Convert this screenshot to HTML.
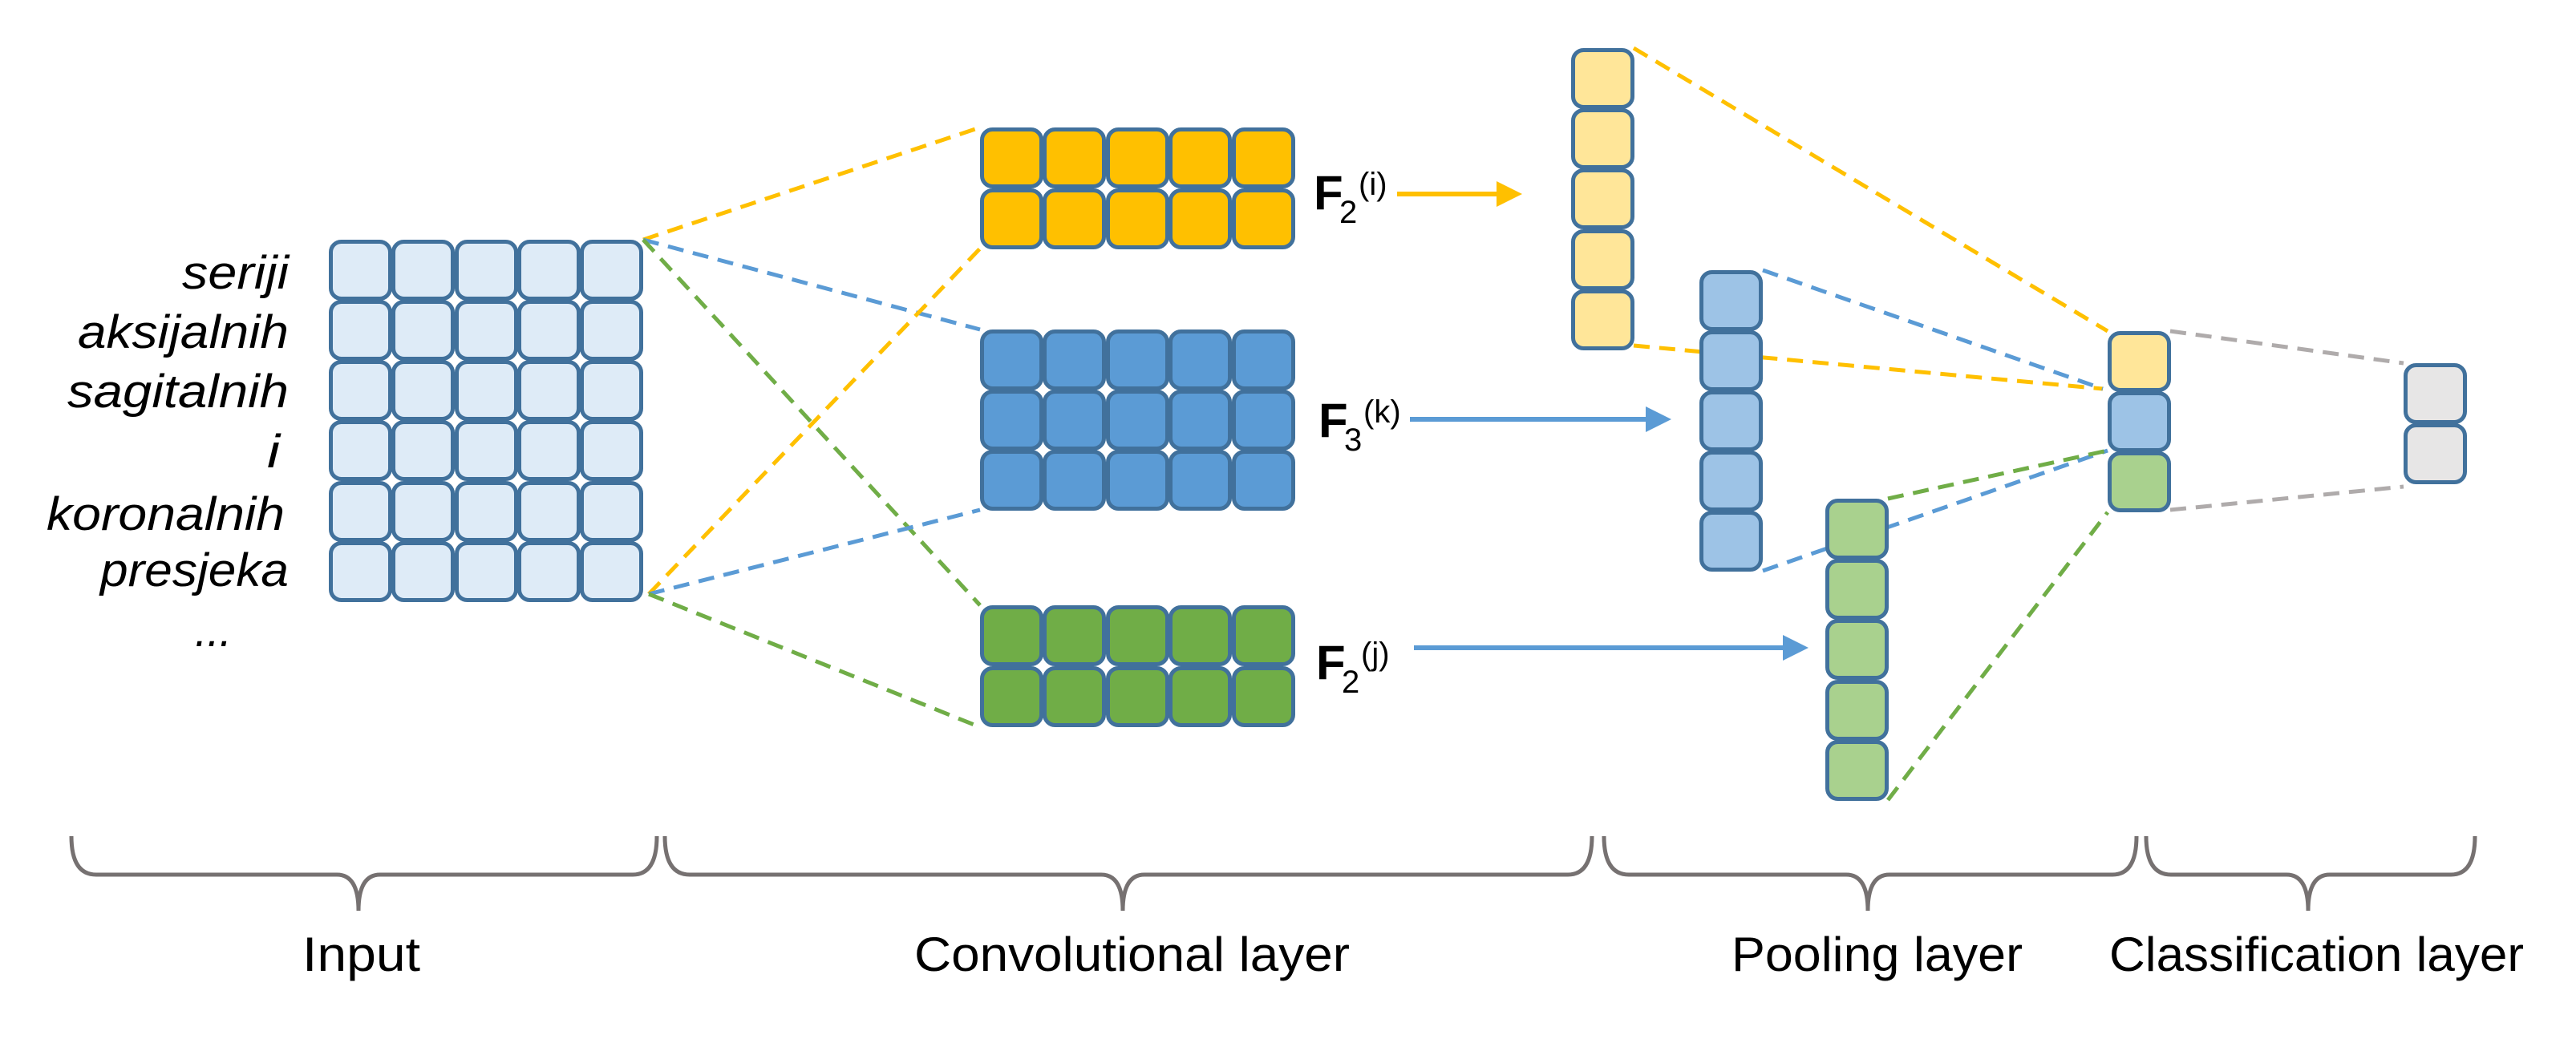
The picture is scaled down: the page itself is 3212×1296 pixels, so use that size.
<!DOCTYPE html>
<html><head><meta charset="utf-8"><style>html,body{margin:0;padding:0;background:#fff}svg{display:block}</style></head>
<body>
<svg width="3212" height="1296" viewBox="0 0 3212 1296" xmlns="http://www.w3.org/2000/svg">
<defs>
<rect id="c" x="2.5" y="2.5" width="74" height="71" rx="13" stroke="#41719C" stroke-width="5"/>
</defs>
<!-- dashed connectors left -->
<g stroke-width="5" stroke-dasharray="20,12" fill="none">
<line x1="802" y1="299" x2="1222" y2="159" stroke="#FFC000"/>
<line x1="802" y1="299" x2="1222" y2="411" stroke="#5B9BD5"/>
<line x1="802" y1="299" x2="1222" y2="755" stroke="#70AD47"/>
<line x1="809" y1="741" x2="1222" y2="310" stroke="#FFC000"/>
<line x1="809" y1="741" x2="1222" y2="636" stroke="#5B9BD5"/>
<line x1="809" y1="741" x2="1222" y2="907" stroke="#70AD47"/>
<line x1="2037" y1="60" x2="2628" y2="413" stroke="#FFC000"/>
<line x1="2037" y1="431" x2="2622" y2="485" stroke="#FFC000"/>
<line x1="2198" y1="337" x2="2622" y2="485" stroke="#5B9BD5"/>
<line x1="2198" y1="712" x2="2628" y2="562" stroke="#5B9BD5"/>
<line x1="2354" y1="622" x2="2628" y2="562" stroke="#70AD47"/>
<line x1="2354" y1="998" x2="2628" y2="639" stroke="#70AD47"/>
<line x1="2706" y1="413" x2="2997" y2="453" stroke="#AFABAB"/>
<line x1="2706" y1="636" x2="2997" y2="607" stroke="#AFABAB"/>
</g>
<!-- input grid -->
<g fill="#DEEBF7">
<use href="#c" x="410" y="299"/><use href="#c" x="488" y="299"/><use href="#c" x="567" y="299"/><use href="#c" x="645" y="299"/><use href="#c" x="723" y="299"/>
<use href="#c" x="410" y="374"/><use href="#c" x="488" y="374"/><use href="#c" x="567" y="374"/><use href="#c" x="645" y="374"/><use href="#c" x="723" y="374"/>
<use href="#c" x="410" y="449"/><use href="#c" x="488" y="449"/><use href="#c" x="567" y="449"/><use href="#c" x="645" y="449"/><use href="#c" x="723" y="449"/>
<use href="#c" x="410" y="524"/><use href="#c" x="488" y="524"/><use href="#c" x="567" y="524"/><use href="#c" x="645" y="524"/><use href="#c" x="723" y="524"/>
<use href="#c" x="410" y="600"/><use href="#c" x="488" y="600"/><use href="#c" x="567" y="600"/><use href="#c" x="645" y="600"/><use href="#c" x="723" y="600"/>
<use href="#c" x="410" y="675"/><use href="#c" x="488" y="675"/><use href="#c" x="567" y="675"/><use href="#c" x="645" y="675"/><use href="#c" x="723" y="675"/>
</g>
<g fill="#FFC000">
<use href="#c" x="1222" y="159"/><use href="#c" x="1300" y="159"/><use href="#c" x="1379" y="159"/><use href="#c" x="1457" y="159"/><use href="#c" x="1536" y="159"/>
<use href="#c" x="1222" y="235"/><use href="#c" x="1300" y="235"/><use href="#c" x="1379" y="235"/><use href="#c" x="1457" y="235"/><use href="#c" x="1536" y="235"/>
</g>
<g fill="#5B9BD5">
<use href="#c" x="1222" y="411"/><use href="#c" x="1300" y="411"/><use href="#c" x="1379" y="411"/><use href="#c" x="1457" y="411"/><use href="#c" x="1536" y="411"/>
<use href="#c" x="1222" y="486"/><use href="#c" x="1300" y="486"/><use href="#c" x="1379" y="486"/><use href="#c" x="1457" y="486"/><use href="#c" x="1536" y="486"/>
<use href="#c" x="1222" y="561"/><use href="#c" x="1300" y="561"/><use href="#c" x="1379" y="561"/><use href="#c" x="1457" y="561"/><use href="#c" x="1536" y="561"/>
</g>
<g fill="#70AD47">
<use href="#c" x="1222" y="755"/><use href="#c" x="1300" y="755"/><use href="#c" x="1379" y="755"/><use href="#c" x="1457" y="755"/><use href="#c" x="1536" y="755"/>
<use href="#c" x="1222" y="831"/><use href="#c" x="1300" y="831"/><use href="#c" x="1379" y="831"/><use href="#c" x="1457" y="831"/><use href="#c" x="1536" y="831"/>
</g>
<g fill="#FFE699">
<use href="#c" x="1959" y="60"/><use href="#c" x="1959" y="135"/><use href="#c" x="1959" y="210"/><use href="#c" x="1959" y="286"/><use href="#c" x="1959" y="361"/>
<use href="#c" x="2628" y="413"/>
</g>
<g fill="#9DC3E6">
<use href="#c" x="2119" y="337"/><use href="#c" x="2119" y="412"/><use href="#c" x="2119" y="487"/><use href="#c" x="2119" y="562"/><use href="#c" x="2119" y="637"/>
<use href="#c" x="2628" y="488"/>
</g>
<g fill="#A9D18E">
<use href="#c" x="2276" y="622"/><use href="#c" x="2276" y="697"/><use href="#c" x="2276" y="772"/><use href="#c" x="2276" y="848"/><use href="#c" x="2276" y="923"/>
<use href="#c" x="2628" y="563"/>
</g>
<g fill="#E7E6E6">
<use href="#c" x="2997" y="453"/><use href="#c" x="2997" y="528"/>
</g>
<!-- arrows -->
<g stroke-width="6">
<line x1="1742" y1="242" x2="1870" y2="242" stroke="#FFC000"/>
<line x1="1758" y1="523" x2="2056" y2="523" stroke="#5B9BD5"/>
<line x1="1763" y1="808" x2="2227" y2="808" stroke="#5B9BD5"/>
</g>
<polygon points="1866,226 1898,242 1866,258" fill="#FFC000"/>
<polygon points="2052,507 2084,523 2052,539" fill="#5B9BD5"/>
<polygon points="2223,792 2255,808 2223,824" fill="#5B9BD5"/>
<!-- F labels -->
<g font-family="Liberation Sans, sans-serif" fill="#000">
<text x="1638" y="261" font-size="60" font-weight="bold">F</text>
<text x="1670" y="278" font-size="40">2</text>
<text x="1694" y="243" font-size="40">(i)</text>
<text x="1644" y="545" font-size="60" font-weight="bold">F</text>
<text x="1676" y="562" font-size="40">3</text>
<text x="1700" y="527" font-size="40">(k)</text>
<text x="1641" y="847" font-size="60" font-weight="bold">F</text>
<text x="1673" y="864" font-size="40">2</text>
<text x="1697" y="829" font-size="40">(j)</text>
</g>
<!-- input text -->
<g font-family="Liberation Sans, sans-serif" font-style="italic" font-size="58" fill="#000" lengthAdjust="spacingAndGlyphs">
<text x="227" y="360" textLength="133" lengthAdjust="spacingAndGlyphs">seriji</text>
<text x="97" y="434" textLength="263" lengthAdjust="spacingAndGlyphs">aksijalnih</text>
<text x="84" y="508" textLength="276" lengthAdjust="spacingAndGlyphs">sagitalnih</text>
<text x="333" y="583" textLength="16" lengthAdjust="spacingAndGlyphs">i</text>
<text x="58" y="661" textLength="297" lengthAdjust="spacingAndGlyphs">koronalnih</text>
<text x="125" y="731" textLength="235" lengthAdjust="spacingAndGlyphs">presjeka</text>
<text x="243" y="806" textLength="46" lengthAdjust="spacingAndGlyphs">...</text>
</g>
<!-- braces -->
<g stroke="#767171" stroke-width="5" fill="none">
<path d="M89,1043 Q89,1091 120,1091 L420,1091 Q447,1091 447,1136 Q447,1091 474,1091 L789,1091 Q819,1091 819,1043"/>
<path d="M829,1043 Q829,1091 860,1091 L1373,1091 Q1400,1091 1400,1136 Q1400,1091 1427,1091 L1955,1091 Q1985,1091 1985,1043"/>
<path d="M2000,1043 Q2000,1091 2031,1091 L2302,1091 Q2329,1091 2329,1136 Q2329,1091 2356,1091 L2634,1091 Q2664,1091 2664,1043"/>
<path d="M2676,1043 Q2676,1091 2707,1091 L2851,1091 Q2878,1091 2878,1136 Q2878,1091 2905,1091 L3056,1091 Q3086,1091 3086,1043"/>
</g>
<g font-family="Liberation Sans, sans-serif" font-size="60" fill="#000">
<text x="377" y="1211" textLength="147" lengthAdjust="spacingAndGlyphs">Input</text>
<text x="1140" y="1211" textLength="543" lengthAdjust="spacingAndGlyphs">Convolutional layer</text>
<text x="2159" y="1211" textLength="363" lengthAdjust="spacingAndGlyphs">Pooling layer</text>
<text x="2630" y="1211" textLength="517" lengthAdjust="spacingAndGlyphs">Classification layer</text>
</g>
</svg>
</body></html>
